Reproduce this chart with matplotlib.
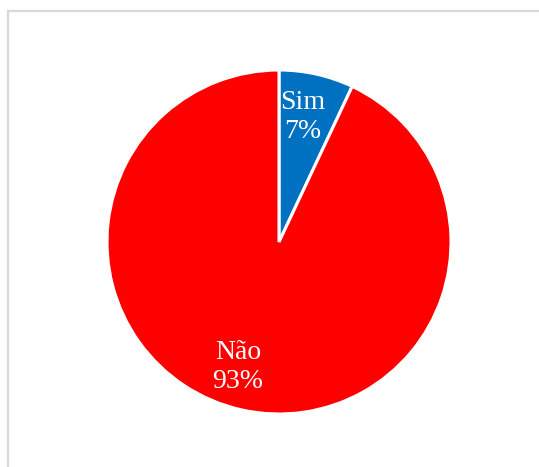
import matplotlib.pyplot as plt
from matplotlib.lines import Line2D

categorias = ["Sim", "Não"]
valores = [7, 93]
cores = ["#0070C0", "#FF0000"]
# posição dos rótulos dentro das fatias (unidades do raio)
pos_rotulos = [(0.14, 0.728), (-0.238, -0.725)]

rotulos = [f"{c}\n{v}%" for c, v in zip(categorias, valores)]

fig = plt.figure(figsize=(5.39, 4.67), dpi=100)
fig.patch.set_facecolor("white")

# moldura cinza (só topo e esquerda)
fig.add_artist(Line2D([7.5 / 539, 7.5 / 539], [0, 1 - 10.5 / 467],
                      color="#D9D9D9", lw=1.6))
fig.add_artist(Line2D([7.5 / 539, 1], [1 - 10.5 / 467, 1 - 10.5 / 467],
                      color="#D9D9D9", lw=1.6))

ax = fig.add_axes([107 / 539, 53 / 467, 344 / 539, 344 / 467])
fatias, textos = ax.pie(valores, labels=rotulos, colors=cores, startangle=90,
                        counterclock=False,
                        wedgeprops=dict(edgecolor="white", linewidth=2.2),
                        textprops=dict(color="white", fontsize=20,
                                       family="Liberation Serif",
                                       ha="center", va="center",
                                       linespacing=1.22))
for t, p in zip(textos, pos_rotulos):
    t.set_position(p)
ax.set_xlim(-1, 1)
ax.set_ylim(-1, 1)
ax.set_aspect("equal")

plt.savefig("out.png", dpi=100)
